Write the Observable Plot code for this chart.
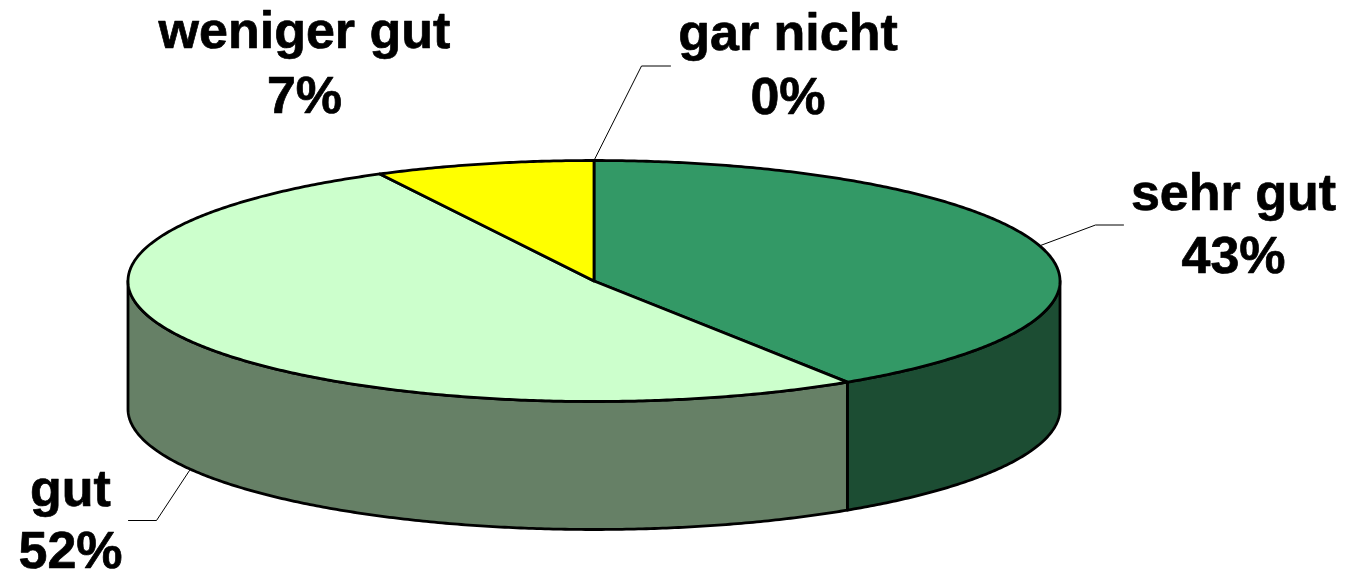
<!DOCTYPE html>
<html><head><meta charset="utf-8">
<style>html,body{margin:0;padding:0;background:#fff}svg{display:block}</style>
<script src="https://cdn.jsdelivr.net/npm/d3@7"></script>
<script src="https://cdn.jsdelivr.net/npm/@observablehq/plot@0.6"></script>
</head><body><div id="chart"></div>
<script>
// Data
const categories = ["sehr gut", "gut", "weniger gut", "gar nicht"];
const labelPercents = [43, 52, 7, 0];
// Angular share of the pie as drawn in the picture (percent of the full turn)
const drawnShares = [40.85, 51.55, 7.6, 0];
const topColors = ["#339966", "#CCFFCC", "#FFFF00", "#FFFF00"];
const sideColors = ["#1C4D33", "#668066", "#808000", "#808000"];

// Layout
const W = 1348, H = 575;
const cx = 593.5, cy = 280.5, rx = 466, ry = 120.5, depth = 128;
const labelX = [1233, 70, 304, 787.5];
const nameY = [209, 505, 47, 49];
const valueY = [272, 567, 112, 113];
const leaderPaths = [
  {i: 0, anchor: 1040, elbowX: 1095, endX: 1123, startY: 245, elbowY: 224.5},
  {i: 1, anchor: 189, elbowX: 156, endX: 128, startY: 470, elbowY: 520},
  {i: 3, anchor: 593.5, elbowX: 641, endX: 670, startY: 160, elbowY: 65.5}
];

const rad = (a) => a * Math.PI / 180;
const rim = (a, dy = 0) => ({x: cx + rx * Math.sin(rad(a)), y: cy - ry * Math.cos(rad(a)) + dy});
const arc = (a0, a1) => {
  const n = Math.max(1, Math.ceil((a1 - a0) * 2));
  return d3.range(n + 1).map((k) => a0 + (a1 - a0) * k / n);
};

let cum = 0;
const slices = categories.map((c, i) => {
  const a0 = cum * 3.6; cum += drawnShares[i];
  return {i, a0, a1: cum * 3.6};
}).filter((s) => s.a1 > s.a0);

const closed = (pts) => [...pts, pts[0]];
const topPoly = (s) => closed([{x: cx, y: cy}, ...arc(s.a0, s.a1).map((a) => rim(a))]);
const sidePoly = (s) => {
  const a0 = Math.max(s.a0, 90), a1 = Math.min(s.a1, 270);
  if (a1 <= a0) return null;
  const as = arc(a0, a1);
  return closed([...as.map((a) => rim(a)), ...as.slice().reverse().map((a) => rim(a, depth))]);
};

const shape = (pts, fill) => Plot.line(pts, {
  x: "x", y: "y", fill, stroke: "#000", strokeWidth: 2.8, strokeLinejoin: "round"
});

const leaders = leaderPaths.map((l) => Plot.line(
  [{x: l.anchor, y: l.startY}, {x: l.elbowX, y: l.elbowY}, {x: l.endX, y: l.elbowY}],
  {x: "x", y: "y", stroke: "#000", strokeWidth: 1}
));

const labelRows = categories.map((c, i) => ({name: c, value: labelPercents[i] + "%", x: labelX[i], ny: nameY[i], vy: valueY[i]}));
const textOpts = {fontFamily: "Liberation Sans, Arial, sans-serif", fontWeight: "bold", fontSize: 52, fill: "#000", stroke: "#000", strokeWidth: 0.7, textAnchor: "middle", lineAnchor: "bottom"};

const chart = Plot.plot({
  width: W, height: H, margin: 0,
  style: {background: "#fff"},
  x: {domain: [0, W], range: [0, W], axis: null},
  y: {domain: [0, H], range: [0, H], axis: null},
  marks: [
    slices.map((s) => { const p = sidePoly(s); return p ? shape(p, sideColors[s.i]) : null; }),
    slices.map((s) => shape(topPoly(s), topColors[s.i])),
    leaders,
    Plot.text(labelRows, {x: "x", y: "ny", text: "name", ...textOpts}),
    Plot.text(labelRows, {x: "x", y: "vy", text: "value", ...textOpts})
  ]
});
document.getElementById("chart").appendChild(chart);
</script></body></html>
